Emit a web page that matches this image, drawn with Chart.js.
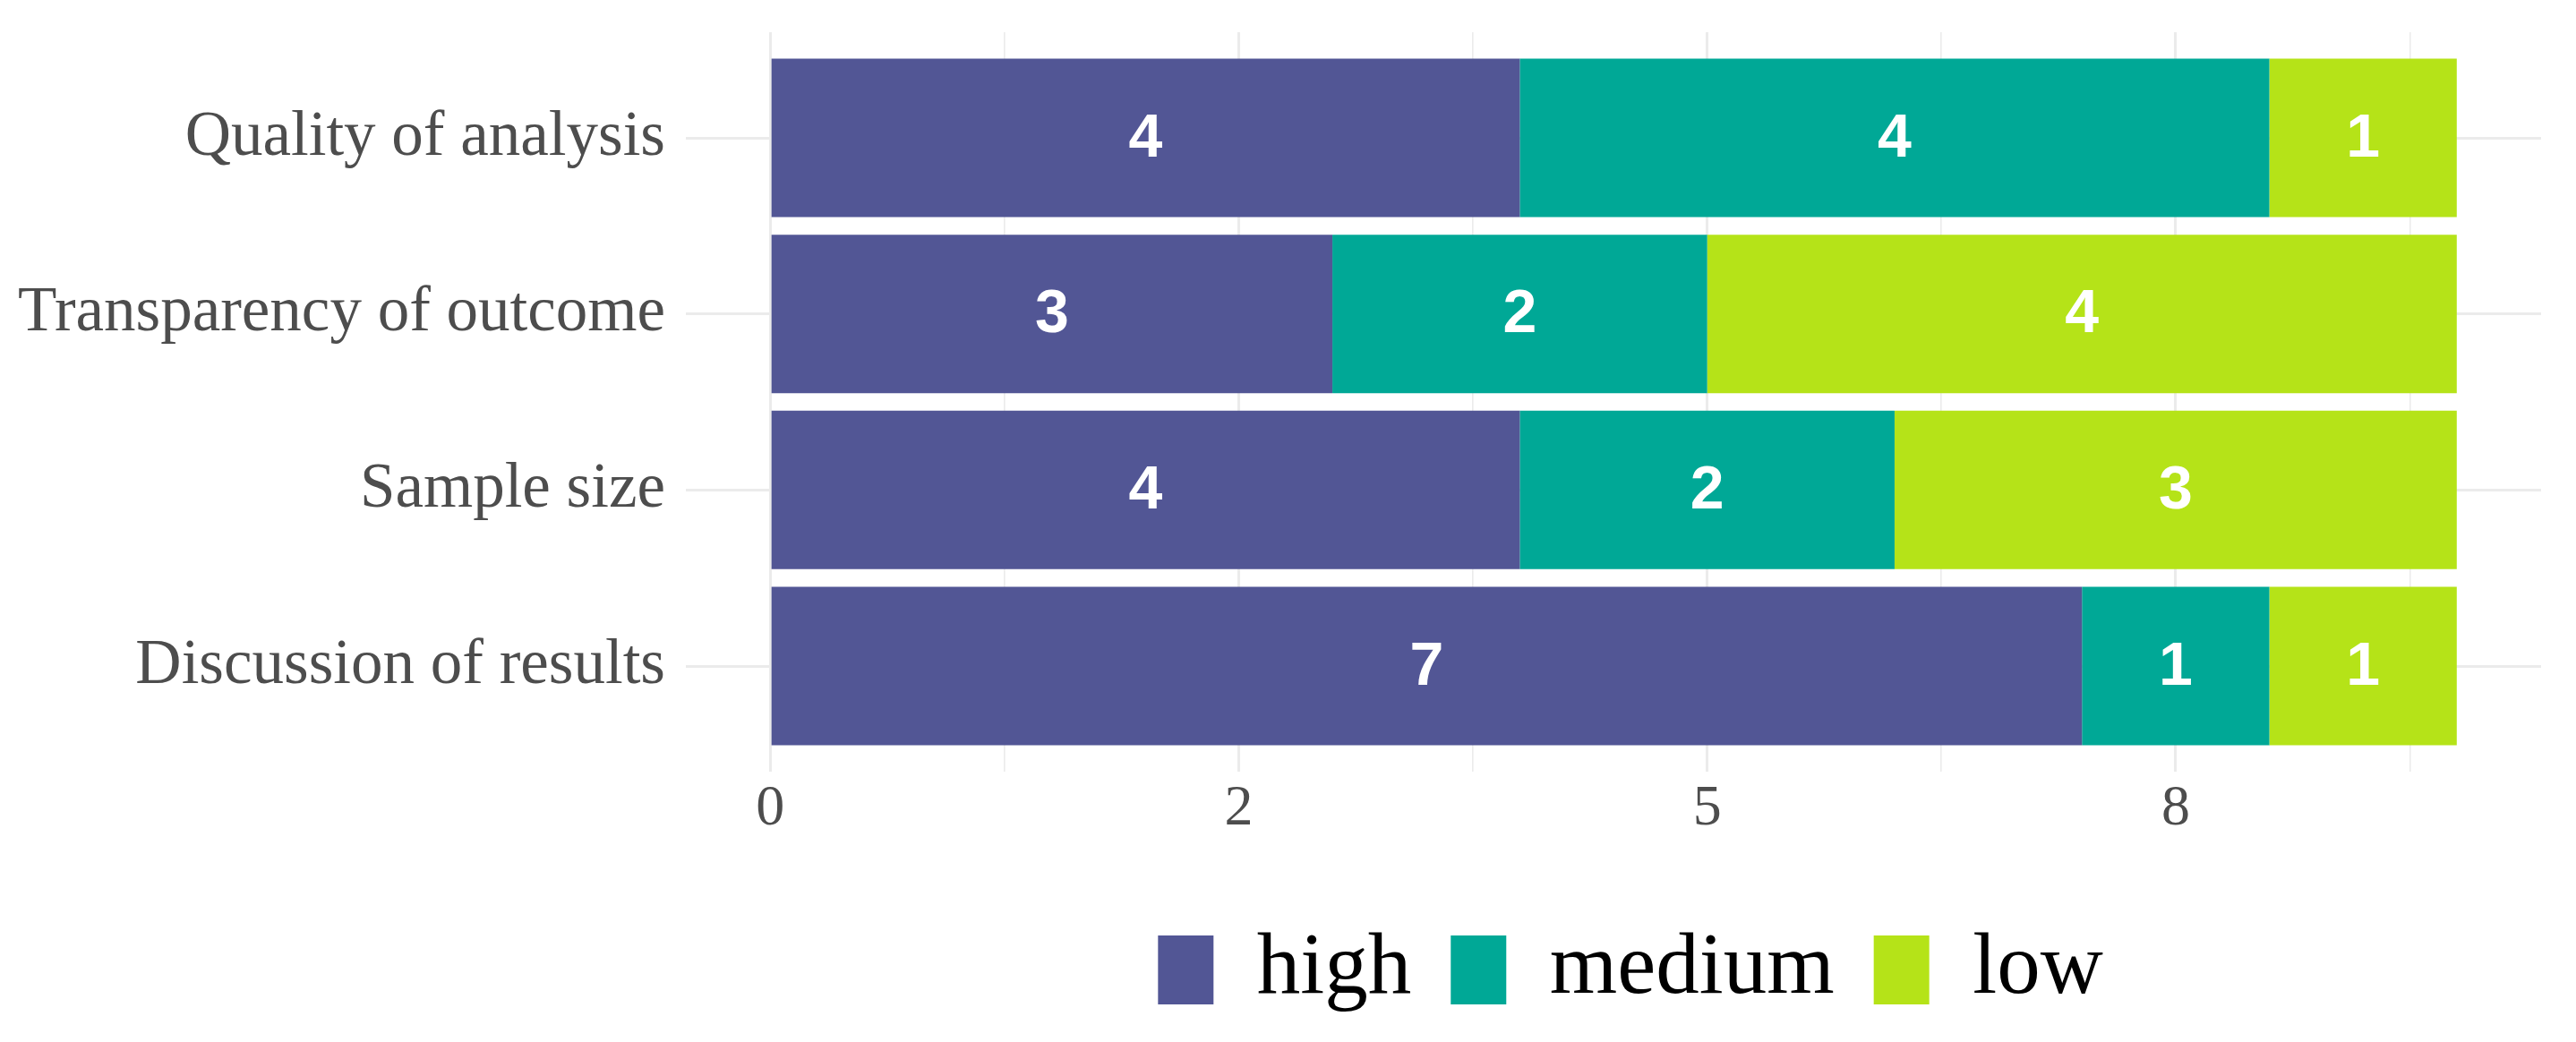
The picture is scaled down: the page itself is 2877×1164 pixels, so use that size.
<!DOCTYPE html>
<html lang="en">
<head>
    <meta charset="UTF-8">
    <title>Quality ratings</title>
    <style>
      body { margin: 0; background: #ffffff; }
      #wrap { width: 2877px; height: 1164px; }
    </style>
</head>
<body>
    <div id="wrap">
        <canvas id="ratingChart"></canvas>
    </div>

    <script src="https://cdn.jsdelivr.net/npm/chart.js"></script>
    <script>
        // data
        const categories = ['Quality of analysis', 'Transparency of outcome', 'Sample size', 'Discussion of results'];
        const highValues = [4, 3, 4, 7];
        const mediumValues = [4, 2, 2, 1];
        const lowValues = [1, 4, 3, 1];
        const seriesNames = ['high', 'medium', 'low'];
        const xMajorTicks = [0, 2.5, 5, 7.5];
        const xMajorLabels = ['0', '2', '5', '8'];
        const xMinorTicks = [1.25, 3.75, 6.25, 8.75];

        const colors = ['#525695', '#00A896', '#B5E318'];
        const gridColor = '#EBEBEB';
        const axisText = '#4D4D4D';

        // panel placement (px)
        const panelBottom = 862;
        const legendFont = 97;
        const legendPad = 44;
        const legendBoxH = 77;
        const legendBoxTop = 1045;

        const toPoints = values => values.map((v, i) => ({ x: v, y: i }));

        // white counts inside each segment
        const segmentLabels = {
          id: 'segmentLabels',
          afterDatasetsDraw(chart) {
            const ctx = chart.ctx;
            ctx.save();
            ctx.fillStyle = '#ffffff';
            ctx.font = 'bold 68px "Liberation Sans", Arial, sans-serif';
            ctx.textAlign = 'center';
            ctx.textBaseline = 'middle';
            chart.data.datasets.forEach((ds, di) => {
              chart.getDatasetMeta(di).data.forEach((bar, i) => {
                const c = bar.getCenterPoint();
                ctx.fillText(String(ds.data[i].x), c.x, c.y + 2);
              });
            });
            ctx.restore();
          }
        };

        // legend sits under the panel, not the whole canvas
        const moveLegend = {
          id: 'moveLegend',
          afterLayout(chart) {
            const lg = chart.legend;
            const area = chart.chartArea;
            const dx = (area.left + area.right) / 2 + 19 - (lg.left + lg.right) / 2;
            const dy = legendBoxTop - (lg.top + legendPad + (legendFont - legendBoxH) / 2);
            lg.left += dx; lg.right += dx;
            lg.top += dy; lg.bottom += dy;
          }
        };

        const ctx = document.getElementById('ratingChart').getContext('2d');

        const ratingChart = new Chart(ctx, {
          type: 'bar',
          data: {
            datasets: [
              { label: seriesNames[0], data: toPoints(highValues), backgroundColor: colors[0] },
              { label: seriesNames[1], data: toPoints(mediumValues), backgroundColor: colors[1] },
              { label: seriesNames[2], data: toPoints(lowValues), backgroundColor: colors[2] }
            ]
          },
          options: {
            indexAxis: 'y',
            responsive: true,
            maintainAspectRatio: false,
            animation: false,
            categoryPercentage: 0.9,
            barPercentage: 1.0,
            layout: {
              padding: { top: 36, right: 39, bottom: 0, left: 0 }
            },
            plugins: {
              tooltip: { enabled: false },
              legend: {
                display: true,
                position: 'bottom',
                labels: {
                  boxWidth: 62,
                  boxHeight: legendBoxH,
                  padding: legendPad,
                  color: '#000000',
                  font: { family: '"Liberation Serif", serif', size: legendFont }
                }
              }
            },
            scales: {
              x: {
                type: 'linear',
                stacked: true,
                min: -0.45,
                max: 9.45,
                afterBuildTicks: scale => {
                  scale.ticks = xMajorTicks.concat(xMinorTicks)
                    .sort((a, b) => a - b)
                    .map(v => ({ value: v }));
                },
                afterFit: scale => {
                  scale.height = scale.chart.height - panelBottom - scale.chart.legend.height;
                  scale.paddingLeft = 0;
                  scale.paddingRight = 0;
                },
                border: { display: false },
                grid: {
                  drawTicks: false,
                  color: gridColor,
                  lineWidth: c => xMajorTicks.includes(c.tick.value) ? 3 : 1.6
                },
                ticks: {
                  autoSkip: false,
                  maxRotation: 0,
                  padding: 4,
                  color: axisText,
                  font: { family: '"Liberation Serif", serif', size: 64 },
                  callback: value => {
                    const k = xMajorTicks.indexOf(value);
                    return k >= 0 ? xMajorLabels[k] : '';
                  }
                }
              },
              y: {
                type: 'linear',
                stacked: true,
                reverse: true,
                offset: false,
                min: -0.6,
                max: 3.6,
                afterBuildTicks: scale => {
                  scale.ticks = categories.map((c, i) => ({ value: i }));
                },
                afterFit: scale => {
                  scale.width = 766;
                  scale.paddingTop = 0;
                  scale.paddingBottom = 0;
                },
                border: { display: false },
                grid: {
                  offset: false,
                  drawTicks: false,
                  color: gridColor,
                  lineWidth: 3
                },
                ticks: {
                  autoSkip: false,
                  padding: 23,
                  color: axisText,
                  font: { family: '"Liberation Serif", serif', size: 71 },
                  callback: value => categories[value]
                }
              }
            }
          },
          plugins: [segmentLabels, moveLegend]
        });
    </script>
</body>
</html>
